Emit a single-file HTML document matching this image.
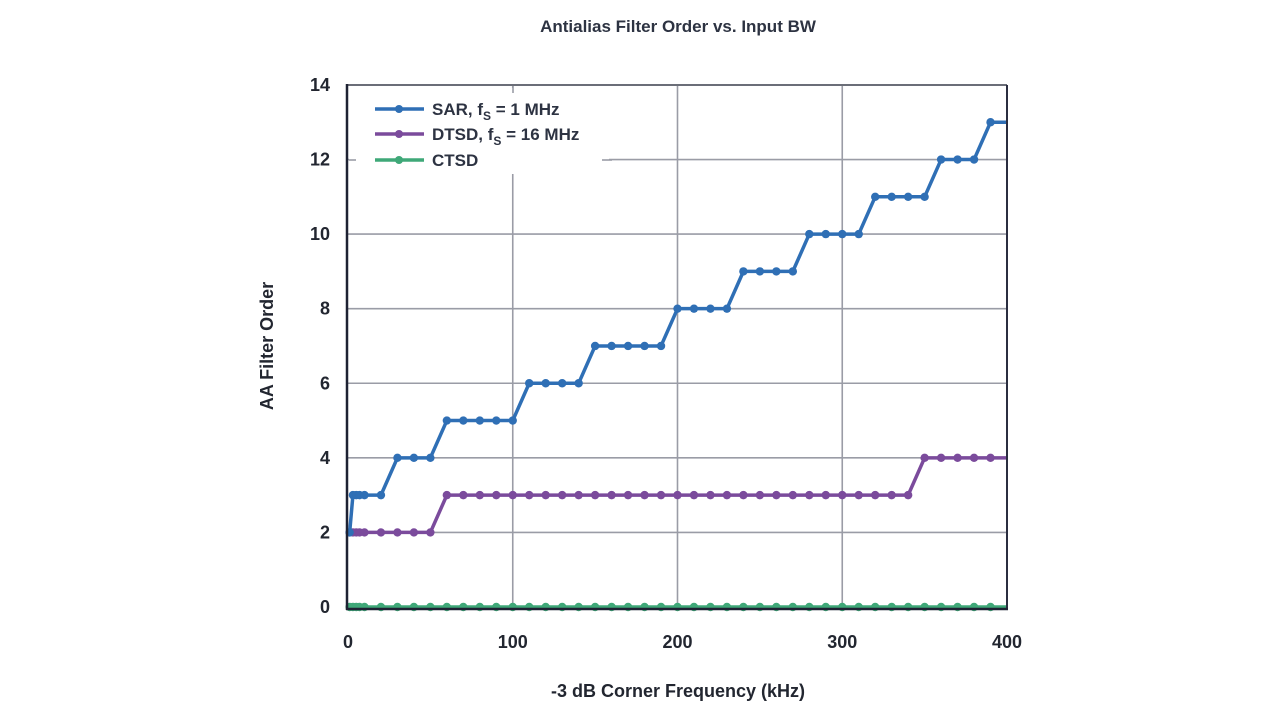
<!DOCTYPE html>
<html><head><meta charset="utf-8"><style>
html,body{margin:0;padding:0;background:#fff;}
svg{display:block;font-family:"Liberation Sans",sans-serif;}
</style></head><body>
<svg id="s" width="1280" height="720" viewBox="0 0 1280 720">
<rect width="1280" height="720" fill="#fff"/>
<text x="678" y="32" text-anchor="middle" font-size="17" font-weight="bold" fill="#2d3342">Antialias Filter Order vs. Input BW</text>
<g id="grid" stroke="#9a9ca6" stroke-width="1.6"></g>
<g id="ylab" font-size="18" font-weight="bold" fill="#222630" text-anchor="end"></g>
<g id="xlab" font-size="18" font-weight="bold" fill="#222630" text-anchor="middle"></g>
<text x="678" y="697" text-anchor="middle" font-size="18" font-weight="bold" fill="#222630">-3 dB Corner Frequency (kHz)</text>
<text transform="translate(273,346) rotate(-90)" text-anchor="middle" font-size="18" font-weight="bold" fill="#222630">AA Filter Order</text>
<g id="series"></g>
<rect x="349" y="88" width="260" height="86" fill="#fff"/>
<line x1="513" y1="86" x2="513" y2="93" stroke="#9a9ca6" stroke-width="1.6"/>
<line x1="349" y1="160" x2="356" y2="160" stroke="#9a9ca6" stroke-width="1.6"/>
<line x1="602" y1="160" x2="612" y2="160" stroke="#9a9ca6" stroke-width="1.6"/>
<g font-size="17" font-weight="bold" fill="#2d3342">
<line x1="375" y1="109" x2="424" y2="109" stroke="#2f6fb5" stroke-width="3.5"/><circle cx="399" cy="109" r="4" fill="#2f6fb5"/>
<text x="432" y="115">SAR, f<tspan font-size="12" dy="5">S</tspan><tspan dy="-5"> = 1 MHz</tspan></text>
<line x1="375" y1="134" x2="424" y2="134" stroke="#7b4b9c" stroke-width="3.5"/><circle cx="399" cy="134" r="4" fill="#7b4b9c"/>
<text x="432" y="140">DTSD, f<tspan font-size="12" dy="5">S</tspan><tspan dy="-5"> = 16 MHz</tspan></text>
<line x1="375" y1="160" x2="424" y2="160" stroke="#3fa878" stroke-width="3.5"/><circle cx="399" cy="160" r="4" fill="#3fa878"/>
<text x="432" y="166">CTSD</text>
</g>
<line x1="347" y1="85" x2="1007" y2="85" stroke="#6b6e78" stroke-width="2"/>
<line x1="1007" y1="85" x2="1007" y2="609" stroke="#2b2e40" stroke-width="2"/>
<line x1="347" y1="84" x2="347" y2="610" stroke="#1e2233" stroke-width="2.5"/>
<line x1="346" y1="609" x2="1008" y2="609" stroke="#1e2233" stroke-width="2.5"/>
</svg>
<script>
const X=k=>348+k*1.6475, Y=v=>607-v*37.29;
const ns="http://www.w3.org/2000/svg";
function el(p,t,a){const e=document.createElementNS(ns,t);for(const k in a)e.setAttribute(k,a[k]);p.appendChild(e);return e;}
const g=document.getElementById('grid'),yl=document.getElementById('ylab'),xl=document.getElementById('xlab');
for(let v=0;v<=14;v+=2){if(v>0&&v<14)el(g,'line',{x1:347,x2:1007,y1:Y(v),y2:Y(v)});const t=el(yl,'text',{x:330,y:Y(v)+6});t.textContent=v;}
for(let k=0;k<=400;k+=100){if(k>0&&k<400)el(g,'line',{x1:X(k),x2:X(k),y1:85,y2:609});const t=el(xl,'text',{x:X(k),y:648});t.textContent=k;}
const ks=[1,3,5,7,10];for(let k=20;k<=400;k+=10)ks.push(k);
function sar(k){if(k<2)return 2;if(k<=20)return 3;if(k<=50)return 4;if(k<=100)return 5;if(k<=140)return 6;if(k<=190)return 7;if(k<=230)return 8;if(k<=270)return 9;if(k<=310)return 10;if(k<=350)return 11;if(k<=380)return 12;return 13;}
function dt(k){if(k<=50)return 2;if(k<=340)return 3;return 4;}
const S=document.getElementById('series');
function draw(f,c){const pts=ks.map(k=>[X(k),Y(f(k))]);
el(S,'polyline',{points:pts.map(p=>p.join(',')).join(' '),fill:'none',stroke:c,'stroke-width':3.5,'stroke-linejoin':'round'});
pts.forEach((p,i)=>{if(ks[i]<400)el(S,'circle',{cx:p[0],cy:p[1],r:4.2,fill:c});});}
draw(k=>0,'#3fa878');draw(dt,'#7b4b9c');draw(sar,'#2f6fb5');
</script>
</body></html>
